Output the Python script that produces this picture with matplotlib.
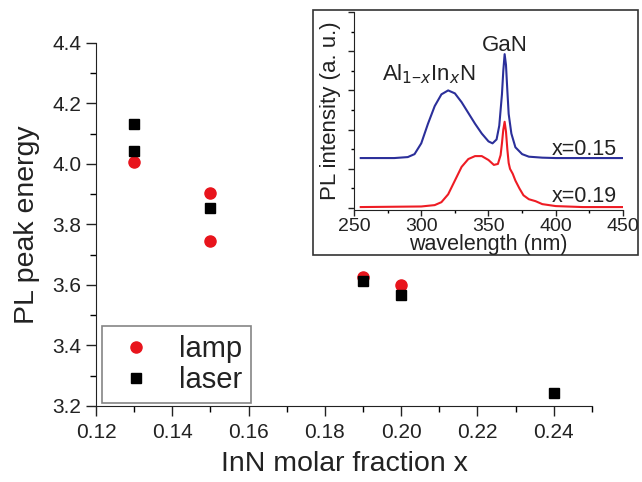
import numpy as np
import matplotlib.pyplot as plt
from matplotlib.patches import Rectangle
from matplotlib.ticker import MultipleLocator

plt.rcParams['font.family'] = ['Liberation Sans', 'DejaVu Sans']

# main panel: PL peak energy vs InN fraction
lamp_x = [0.13, 0.15, 0.15, 0.19, 0.20]
lamp_e = [4.005, 3.905, 3.745, 3.626, 3.600]
laser_x = [0.13, 0.13, 0.15, 0.19, 0.20, 0.24]
laser_e = [4.133, 4.043, 3.855, 3.614, 3.567, 3.242]

# inset: PL spectra
wl_015 = [255, 280, 290, 295, 300, 305, 310, 315, 320, 325, 330, 335, 340,
          345, 350, 353, 356, 358, 360, 361, 362, 363, 364, 365, 367, 370,
          375, 380, 390, 400, 450]
pl_015 = [2.55, 2.55, 2.6, 2.75, 3.3, 4.3, 5.2, 5.8, 6.0, 5.85, 5.4, 4.85,
          4.3, 3.8, 3.4, 3.3, 3.5, 4.2, 5.8, 7.0, 7.85, 7.3, 6.0, 4.8, 3.8,
          3.1, 2.75, 2.62, 2.57, 2.55, 2.55]
wl_019 = [255, 300, 310, 315, 320, 325, 330, 335, 340, 345, 350, 354, 357,
          359, 360, 361, 362, 363, 364, 365, 366, 368, 370, 373, 376, 380,
          385, 390, 400, 420, 450]
pl_019 = [0.05, 0.08, 0.15, 0.3, 0.7, 1.4, 2.1, 2.5, 2.65, 2.65, 2.45, 2.2,
          2.25, 2.7, 3.3, 4.0, 4.4, 3.9, 3.0, 2.3, 2.0, 1.75, 1.4, 1.0, 0.65,
          0.45, 0.35, 0.2, 0.1, 0.05, 0.05]

TXT = '#222222'


def style_axes(ax, major, minor):
    ax.spines['top'].set_visible(False)
    ax.spines['right'].set_visible(False)
    ax.tick_params(which='major', direction='out', length=major, width=1)
    ax.tick_params(which='minor', direction='out', length=minor, width=1)
    for s in ax.spines.values():
        s.set_color(TXT)


fig = plt.figure(figsize=(6.42, 4.82), dpi=100)
ax = fig.add_axes([0.1495, 0.1577, 0.7725, 0.7531])
ax.plot(lamp_x, lamp_e, 'o', color='#e8141c', markersize=8, label='lamp')
ax.plot(laser_x, laser_e, 's', color='black', markersize=7, label='laser')
ax.set_xlim(0.12, 0.25)
ax.set_ylim(3.2, 4.4)
ax.xaxis.set_major_locator(MultipleLocator(0.02))
ax.xaxis.set_minor_locator(MultipleLocator(0.01))
ax.yaxis.set_major_locator(MultipleLocator(0.2))
ax.yaxis.set_minor_locator(MultipleLocator(0.1))
ax.xaxis.set_major_formatter(lambda v, p: f"{v:.2f}")
ax.yaxis.set_major_formatter(lambda v, p: f"{v:.1f}")
ax.set_xticks([0.12, 0.14, 0.16, 0.18, 0.20, 0.22, 0.24])
style_axes(ax, 7, 4)
ax.tick_params(labelsize=15, colors=TXT)
ax.tick_params(axis='x', pad=5)
ax.set_xlabel('InN molar fraction x', fontsize=20.5, color=TXT, labelpad=7)
ax.set_ylabel('PL peak energy', fontsize=20.5, color=TXT, labelpad=9)
leg = ax.legend(loc='lower left', bbox_to_anchor=(6 / 496, 3 / 363),
                fontsize=21, frameon=True, fancybox=False,
                edgecolor='#666666', borderaxespad=0, handletextpad=0.65,
                borderpad=0.3, labelspacing=0.12, handlelength=1.7,
                numpoints=1)
leg.get_frame().set_linewidth(1.2)
for t in leg.get_texts():
    t.set_color(TXT)

# frame around the inset
box = Rectangle((313 / 642, 1 - 255 / 482), 325 / 642, 245 / 482,
                transform=fig.transFigure, facecolor='white',
                edgecolor='#333333', linewidth=1.2, zorder=1)
fig.patches.append(box)

ins = fig.add_axes([0.5514, 0.5643, 0.419, 0.4108], zorder=2)
ins.patch.set_alpha(0)
ins.plot(wl_015, pl_015, color='#2b2f9a', linewidth=1.5)
ins.plot(wl_019, pl_019, color='#ee1c24', linewidth=1.5)
ins.set_xlim(250, 450)
ins.set_ylim(-0.1, 10)
ins.xaxis.set_major_locator(MultipleLocator(50))
ins.xaxis.set_minor_locator(MultipleLocator(25))
ins.yaxis.set_major_locator(MultipleLocator(2))
ins.yaxis.set_minor_locator(MultipleLocator(1))
ins.set_yticklabels([])
style_axes(ins, 4, 2.5)
ins.tick_params(labelsize=14, colors=TXT, pad=2)
ins.set_xlabel('wavelength (nm)', fontsize=15.5, color=TXT, labelpad=-1)
ins.set_ylabel('PL intensity (a. u.)', fontsize=16, color=TXT, labelpad=3)
ins.text(362, 8.0, 'GaN', fontsize=16, color=TXT, ha='center', va='baseline')
ins.text(306, 6.5, r'Al$_{1\mathregular{-}x}$In$_x$N', fontsize=16,
         color=TXT, ha='center', va='baseline')
ins.text(445.5, 2.7, 'x=0.15', fontsize=15.5, color=TXT, ha='right',
         va='baseline')
ins.text(445.5, 0.3, 'x=0.19', fontsize=15.5, color=TXT, ha='right',
         va='baseline')

fig.savefig('out.png', dpi=100)
